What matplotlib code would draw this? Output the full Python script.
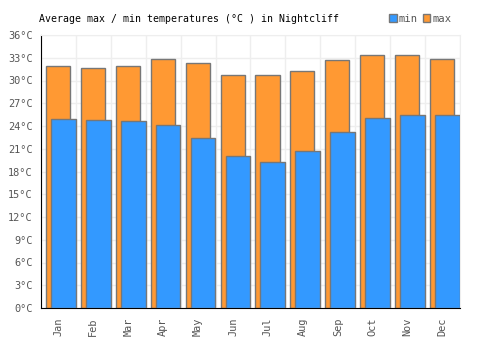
import matplotlib
matplotlib.use("Agg")
import matplotlib.pyplot as plt
import numpy as np

months = ["Jan", "Feb", "Mar", "Apr", "May", "Jun", "Jul", "Aug", "Sep", "Oct", "Nov", "Dec"]
t_max = [31.9, 31.6, 31.9, 32.9, 32.3, 30.7, 30.7, 31.3, 32.7, 33.4, 33.4, 32.9]
t_min = [24.9, 24.8, 24.7, 24.1, 22.4, 20.0, 19.2, 20.7, 23.2, 25.0, 25.5, 25.5]
yticks = list(range(0, 37, 3))

plt.rcParams["font.family"] = "DejaVu Sans Mono"

fig = plt.figure(figsize=(5, 3.5), dpi=100)
ax = fig.add_axes([0.082, 0.12, 0.838, 0.78])

x = np.arange(len(months))
edge = "#777777"
ax.bar(x - 0.013, t_max, width=0.69, color="#FF9933", edgecolor=edge, linewidth=1, label="max", zorder=2)
ax.bar(x + 0.14, t_min, width=0.71, color="#3399FF", edgecolor=edge, linewidth=1, label="min", zorder=3)

ax.set_xlim(-0.5, 11.5)
ax.set_ylim(0, 36)
ax.set_yticks(yticks)
ax.set_yticklabels([f"{v}°C" for v in yticks])
ax.set_xticks(x)
ax.set_xticklabels(months, rotation=90)
ax.set_xticks(np.arange(-0.5, 12, 1), minor=True)
ax.tick_params(axis="both", which="both", length=0, labelsize=7.4, labelcolor="#555555")
ax.tick_params(axis="x", pad=7)
ax.tick_params(axis="y", pad=6)
ax.grid(True, which="minor", axis="x", color="#eeeeee", linewidth=1, zorder=0)
ax.grid(True, which="major", axis="y", color="#eeeeee", linewidth=1, zorder=0)
ax.set_axisbelow(True)

for s in ["top", "right"]:
    ax.spines[s].set_color("#eeeeee")
ax.spines["left"].set_color("black")
ax.spines["bottom"].set_color("black")

fig.text(0.078, 0.947, "Average max / min temperatures (°C ) in Nightcliff", fontsize=7.1, color="black", va="center")

handles, labels = ax.get_legend_handles_labels()
fig.legend(handles[::-1], labels[::-1], loc="center right", bbox_to_anchor=(0.914, 0.947), ncol=2,
           frameon=False, fontsize=7.6, handlelength=0.7, handleheight=0.7, handletextpad=0.2,
           columnspacing=0.5, labelcolor="#555555", borderpad=0)

fig.savefig("out.png", dpi=100)
